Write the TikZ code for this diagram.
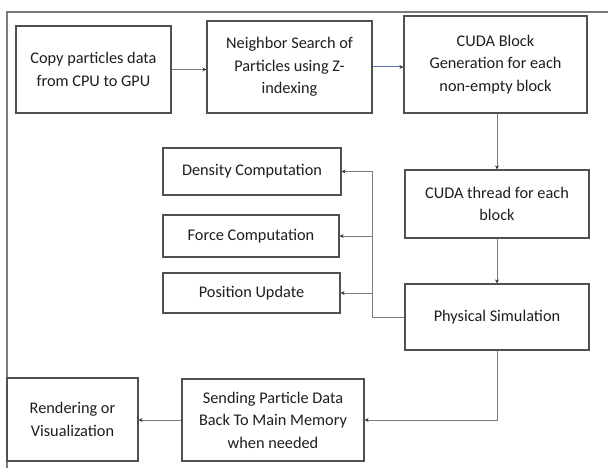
\documentclass[tikz,border=0pt]{standalone}
\usepackage{fontspec}
\setmainfont{Carlito}
\usetikzlibrary{arrows.meta,calc}
\definecolor{boxline}{HTML}{505050}
\definecolor{conn}{HTML}{7A7A7A}
\definecolor{bluearr}{HTML}{5A6EA8}
\definecolor{txt}{HTML}{1E1E1E}
\definecolor{tipc}{HTML}{333333}
\begin{document}
\begin{tikzpicture}[x=1pt,y=-1pt,
  stepbox/.style={draw=boxline,line width=1.1pt,rectangle,inner sep=0pt,align=center,
    text=txt,font=\fontsize{16.3}{22.5}\selectfont},
  arr/.style={draw=conn,line width=1pt,-{Stealth[length=4pt,width=4pt,color=tipc]}},
  plain/.style={draw=conn,line width=1pt}]
\useasboundingbox (0,0) rectangle (608,468);
\fill[white] (0,0) rectangle (608,468);
% outer frame (top and left only)
\draw[draw=conn,line width=1.2pt] (608,12) -- (7,12) -- (7,468);
% boxes
\node[stepbox,minimum width=155pt,minimum height=87pt] (copy) at (93.5,69.5) {Copy particles data\\from CPU to GPU};
\node[stepbox,minimum width=165pt,minimum height=92pt] (nbr) at (289.5,67) {Neighbor Search of\\Particles using Z-\\indexing};
\node[stepbox,minimum width=183pt,minimum height=97pt] (blk) at (495.5,64.5) {CUDA Block\\Generation for each\\non-empty block};
\node[stepbox,minimum width=184pt,minimum height=68pt] (thr) at (497,204) {CUDA thread for each\\block};
\node[stepbox,minimum width=184pt,minimum height=66pt] (phys) at (497,317) {Physical Simulation};
\node[stepbox,minimum width=178pt,minimum height=47pt] (dens) at (252,171.5) {Density Computation};
\node[stepbox,minimum width=176pt,minimum height=42pt] (force) at (251,236) {Force Computation};
\node[stepbox,minimum width=177pt,minimum height=40pt] (pos) at (251.5,293) {Position Update};
\node[stepbox,minimum width=182pt,minimum height=82pt] (send) at (273,420) {Sending Particle Data\\Back To Main Memory\\when needed};
\node[stepbox,minimum width=131pt,minimum height=83pt] (rend) at (72.5,419.5) {Rendering or\\Visualization};
% connectors
\draw[arr] (copy.east) -- (copy.east -| nbr.west);
\draw[arr,draw=bluearr] (nbr.east) -- (nbr.east -| blk.west);
\draw[arr] (thr.north |- blk.south) -- (thr.north);
\draw[arr] (thr.south) -- (phys.north);
\coordinate (jt) at (372,171.5);
\draw[arr] (phys.west) -| (jt) -- (dens.east);
\draw[arr] (jt |- force.east) -- (force.east);
\draw[arr] (jt |- pos.east) -- (pos.east);
\draw[arr] (phys.south) |- (send.east);
\draw[arr] (send.west) -- (send.west -| rend.east);
\end{tikzpicture}
\end{document}
